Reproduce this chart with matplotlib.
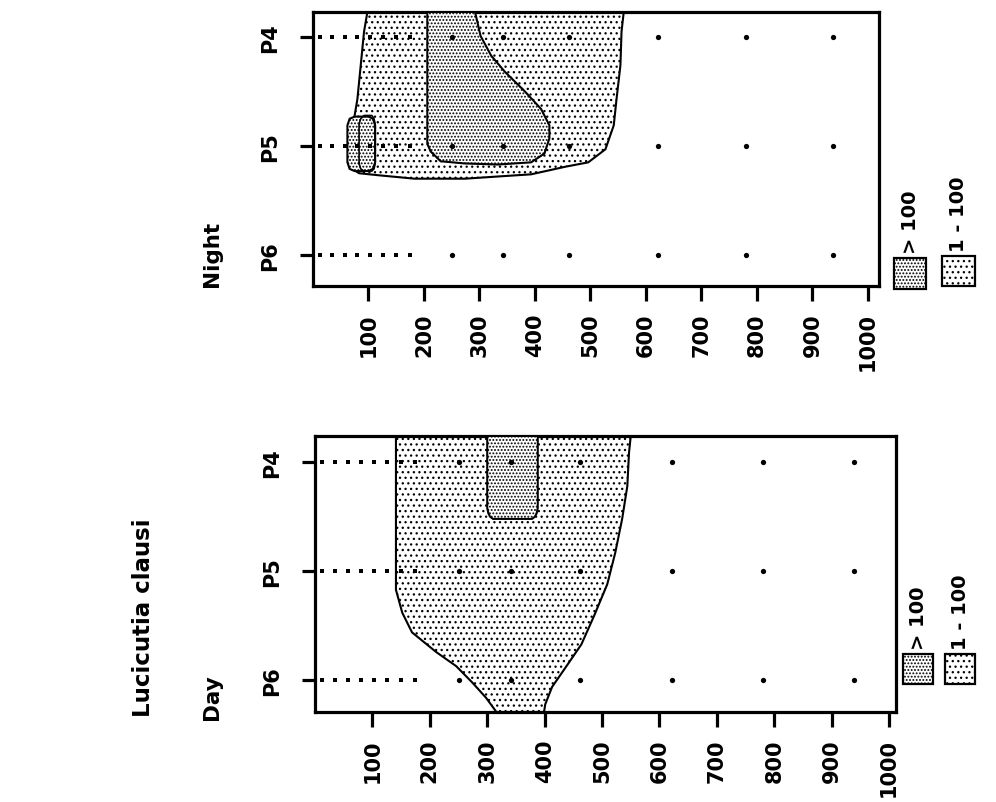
import matplotlib
matplotlib.use('Agg')
import matplotlib.pyplot as plt
from matplotlib.patches import Rectangle

W, H = 996, 803
plt.rcParams['font.family'] = ['DejaVu Sans']
plt.rcParams['font.weight'] = 'bold'
plt.rcParams['hatch.linewidth'] = 0.9

# ---------------- data ----------------
species = 'Lucicutia clausi'
stations = ['P6', 'P5', 'P4']
station_pos = [0, 1, 2]
depth_ticks = [100, 200, 300, 400, 500, 600, 700, 800, 900, 1000]
shallow_depths = [13, 35, 57, 80, 103, 126, 150, 174]
deep_depths = [250, 342, 462, 621, 780, 938]
legend_labels = ['> 100', '1 - 100']

# Day: 1-100 contour (depth, station position)
day_low_d = [141, 141, 152, 169, 211, 246, 274, 298, 316,
             399, 401, 413, 438, 464, 486, 509, 523, 535, 544, 547, 550]
day_low_s = [2.24, 0.83, 0.62, 0.44, 0.26, 0.13, -0.02, -0.16, -0.29,
             -0.29, -0.22, -0.06, 0.13, 0.33, 0.59, 0.88, 1.17, 1.48, 1.78, 2.09, 2.24]
# Day: >100 contour
day_high_d = [300, 300, 302, 305, 310, 378, 383, 386, 388, 388]
day_high_s = [2.24, 1.58, 1.53, 1.50, 1.48, 1.48, 1.50, 1.53, 1.58, 2.24]

# Night: 1-100 contour
night_low_d = [98, 92, 86, 80, 74, 69, 65, 71, 83, 121, 183, 274, 333, 393,
               455, 496, 527, 542, 547, 554, 556, 560]
night_low_s = [2.23, 2.05, 1.74, 1.43, 1.25, 1.11, 0.88, 0.79, 0.75, 0.73, 0.70,
               0.70, 0.72, 0.74, 0.81, 0.85, 0.97, 1.19, 1.43, 1.74, 2.05, 2.23]
# Night: >100 contours
night_high_d = [206, 206, 212, 230, 273, 333, 393, 417, 426, 426, 411, 382,
                346, 321, 302, 292]
night_high_s = [2.23, 1.02, 0.95, 0.86, 0.84, 0.83, 0.85, 0.93, 1.07, 1.19,
                1.34, 1.50, 1.68, 1.83, 2.01, 2.23]
night_patch_d = [62, 62, 66, 75, 100, 108, 112, 112, 108, 100, 75, 66]
night_patch_s = [0.85, 1.19, 1.25, 1.27, 1.27, 1.25, 1.19, 0.85, 0.79, 0.77, 0.77, 0.79]
night_inner_d = [83, 83, 86, 92, 106, 110, 112, 112, 110, 106, 92, 86]
night_inner_s = [0.84, 1.20, 1.25, 1.28, 1.28, 1.25, 1.20, 0.84, 0.79, 0.77, 0.77, 0.79]

HATCH_LOW = '...'
HATCH_HIGH = '.....'


def fx(px):
    return px / W


def fy(py):
    return 1 - py / H


fig = plt.figure(figsize=(W / 100, H / 100), dpi=100)
fig.patch.set_facecolor('white')


def make_axes(x0, x1, y0, y1, xmax, ylim):
    ax = fig.add_axes([fx(x0), fy(y1), fx(x1) - fx(x0), fy(y0) - fy(y1)])
    ax.set_xlim(0, xmax)
    ax.set_ylim(*ylim)
    for sp in ax.spines.values():
        sp.set_linewidth(2.3)
    ax.set_xticks(depth_ticks)
    ax.set_xticklabels([str(t) for t in depth_ticks], rotation=90,
                       fontsize=15, fontweight='bold')
    ax.set_yticks(station_pos)
    ax.set_yticklabels(stations, rotation=90, va='center',
                       fontsize=15, fontweight='bold')
    ax.tick_params(axis='x', direction='out', length=11, width=2.3, pad=8)
    ax.tick_params(axis='y', direction='out', length=9.5, width=2.3, pad=14)
    return ax


def draw_samples(ax):
    for s in station_pos:
        ax.plot(shallow_depths, [s] * len(shallow_depths), ls='none',
                marker='s', ms=3.0, color='black', mew=0, zorder=6)
        ax.plot(deep_depths, [s] * len(deep_depths), ls='none',
                marker='o', ms=3.8, color='black', mew=0, zorder=6)


def region(ax, d, s, hatch, z):
    ax.fill(d, s, facecolor='white', edgecolor='black', linewidth=1.5,
            hatch=hatch, zorder=z)


# ---------------- Day ----------------
ax_d = make_axes(315, 896, 437, 713, 1012, (-0.29, 2.24))
region(ax_d, day_low_d, day_low_s, HATCH_LOW, 2)
region(ax_d, day_high_d, day_high_s, HATCH_HIGH, 3)
draw_samples(ax_d)

# ---------------- Night ----------------
ax_n = make_axes(313, 879, 13, 287, 1020, (-0.285, 2.23))
region(ax_n, night_low_d, night_low_s, HATCH_LOW, 2)
region(ax_n, night_high_d, night_high_s, HATCH_HIGH, 3)
region(ax_n, night_patch_d, night_patch_s, HATCH_HIGH, 4)
ax_n.plot(night_inner_d + night_inner_d[:1], night_inner_s + night_inner_s[:1],
          color='black', lw=1.2, zorder=5)
draw_samples(ax_n)

# ---------------- titles ----------------
fig.text(fx(143), fy(717), species, rotation=90, ha='center', va='bottom',
         fontsize=16.5, fontweight='bold')
fig.text(fx(212), fy(720), 'Day', rotation=90, ha='center', va='bottom',
         fontsize=15.5, fontweight='bold')
fig.text(fx(212), fy(287), 'Night', rotation=90, ha='center', va='bottom',
         fontsize=15.5, fontweight='bold')


# ---------------- legends ----------------
def legend(boxes):
    hatches = [HATCH_HIGH, HATCH_LOW]
    for (x0, x1, y0, y1), lab, h in zip(boxes, legend_labels, hatches):
        fig.patches.append(Rectangle((fx(x0), fy(y1)), fx(x1) - fx(x0),
                                     fy(y0) - fy(y1), transform=fig.transFigure,
                                     facecolor='white', edgecolor='black',
                                     linewidth=1.6, hatch=h))
        fig.text(fx((x0 + x1) / 2), fy(y0 - 5), lab, rotation=90, ha='center',
                 va='bottom', fontsize=14, fontweight='bold')


legend([(894, 926, 259, 290), (942, 975, 257, 287)])
legend([(903, 933, 655, 685), (945, 975, 655, 685)])

fig.savefig('out.png', dpi=100, facecolor='white')
